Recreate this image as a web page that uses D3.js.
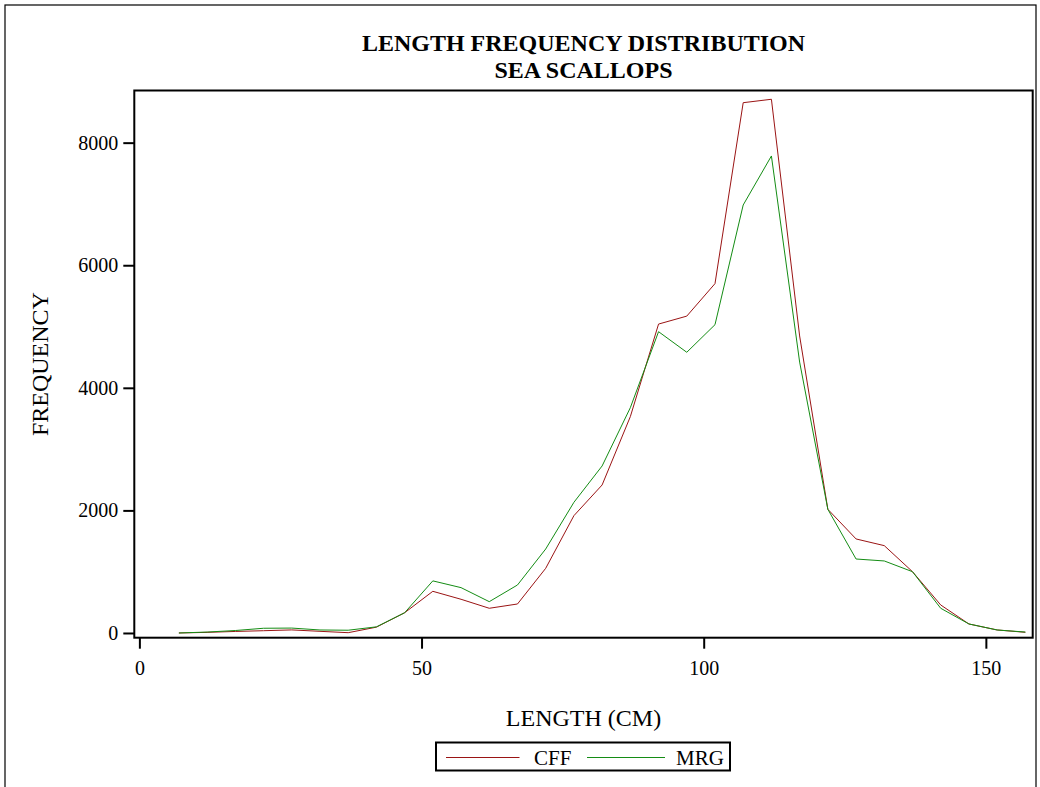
<!DOCTYPE html>
<html>
<head>
<meta charset="utf-8">
<script src="https://cdn.jsdelivr.net/npm/d3@7"></script>
<style>
  html, body { margin: 0; padding: 0; background: #fff; }
  svg { display: block; font-family: "Liberation Serif", "Times New Roman", serif; }
</style>
</head>
<body>
<svg id="chart" width="1040" height="787"></svg>
<script>
// Shell length classes (cm) and counts per class for each series
const lengths = [7, 12, 17, 22, 27, 32, 37, 42, 47, 52, 57, 62, 67, 72, 77, 82, 87, 92, 97, 102,
                 107, 112, 117, 122, 127, 132, 137, 142, 147, 152, 157];
const cff = [0, 10, 25, 37, 50, 27, 5, 95, 330, 680, 550, 403, 473, 1055, 1914, 2415, 3530, 5040, 5170, 5700,
             8652, 8708, 4846, 2018, 1534, 1425, 1000, 457, 147, 49, 11];
const mrg = [0, 15, 40, 77, 80, 49, 45, 100, 330, 850, 740, 511, 783, 1370, 2132, 2725, 3676, 4916, 4580, 5030,
             6983, 7783, 4420, 2018, 1207, 1175, 1000, 403, 147, 49, 15];
const xTicks = [0, 50, 100, 150];
const yTicks = [0, 2000, 4000, 6000, 8000];
const seriesNames = ["CFF", "MRG"];
const seriesColors = ["#9a1414", "#148c14"];

const svg = d3.select("#chart");

// Outer page frame
svg.append("rect")
  .attr("x", 5).attr("y", 5).attr("width", 1031).attr("height", 800)
  .attr("fill", "none").attr("stroke", "#000").attr("stroke-width", 1.2);

const plot = { left: 134.3, right: 1032.7, top: 90.5, bottom: 637.7 };

const x = d3.scaleLinear().domain([-0.9, 158.3]).range([plot.left, plot.right]);
const y = d3.scaleLinear().domain([-77, 8851]).range([plot.bottom, plot.top]);

// Titles
const cx = (plot.left + plot.right) / 2;
svg.append("text")
  .attr("x", cx).attr("y", 51)
  .attr("text-anchor", "middle").attr("font-weight", "bold").attr("font-size", 24)
  .text("LENGTH FREQUENCY DISTRIBUTION");
svg.append("text")
  .attr("x", cx).attr("y", 78)
  .attr("text-anchor", "middle").attr("font-weight", "bold").attr("font-size", 24)
  .text("SEA SCALLOPS");

// Series lines
const series = [cff, mrg];
const line = d3.line()
  .x((d, i) => x(lengths[i]))
  .y(d => y(d));

series.forEach((vals, k) => {
  svg.append("path")
    .datum(vals)
    .attr("d", line)
    .attr("fill", "none")
    .attr("stroke", seriesColors[k])
    .attr("stroke-width", 1)
    .attr("stroke-linejoin", "miter");
});

// Plot frame
svg.append("rect")
  .attr("x", plot.left).attr("y", plot.top)
  .attr("width", plot.right - plot.left).attr("height", plot.bottom - plot.top)
  .attr("fill", "none").attr("stroke", "#000").attr("stroke-width", 2);

// Y axis
const yAxis = d3.axisLeft(y).tickValues(yTicks).tickSize(11).tickPadding(5).tickFormat(d3.format("d"));
const gy = svg.append("g").attr("transform", `translate(${plot.left},0)`).call(yAxis);
gy.select(".domain").remove();
gy.selectAll(".tick line").attr("stroke", "#000").attr("stroke-width", 2);
gy.selectAll(".tick text")
  .attr("font-family", "Liberation Serif, serif").attr("font-size", 20).attr("fill", "#000");

// X axis
const xAxis = d3.axisBottom(x).tickValues(xTicks).tickSize(11).tickPadding(12).tickFormat(d3.format("d"));
const gx = svg.append("g").attr("transform", `translate(0,${plot.bottom})`).call(xAxis);
gx.select(".domain").remove();
gx.selectAll(".tick line").attr("stroke", "#000").attr("stroke-width", 2);
gx.selectAll(".tick text")
  .attr("font-family", "Liberation Serif, serif").attr("font-size", 20).attr("fill", "#000");

// Axis titles
svg.append("text")
  .attr("x", cx).attr("y", 726)
  .attr("text-anchor", "middle").attr("font-size", 24)
  .text("LENGTH (CM)");
svg.append("text")
  .attr("transform", `translate(48,${(plot.top + plot.bottom) / 2}) rotate(-90)`)
  .attr("text-anchor", "middle").attr("font-size", 24)
  .text("FREQUENCY");

// Legend
const legend = svg.append("g");
legend.append("rect")
  .attr("x", 436).attr("y", 742.5).attr("width", 294).attr("height", 28)
  .attr("fill", "none").attr("stroke", "#000").attr("stroke-width", 2);
const legendItems = [
  { x1: 446, x2: 519.5, tx: 534 },
  { x1: 587, x2: 665, tx: 676 }
];
legendItems.forEach((it, k) => {
  legend.append("line")
    .attr("x1", it.x1).attr("x2", it.x2).attr("y1", 757.5).attr("y2", 757.5)
    .attr("stroke", seriesColors[k]).attr("stroke-width", 1);
  legend.append("text")
    .attr("x", it.tx).attr("y", 764.5).attr("font-size", 21)
    .text(seriesNames[k]);
});
</script>
</body>
</html>
